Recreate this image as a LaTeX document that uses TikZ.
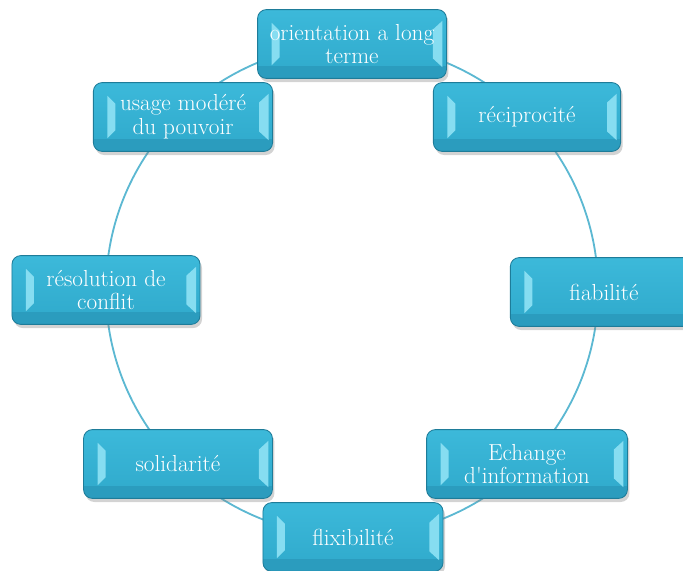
\documentclass[tikz,border=0pt]{standalone}
\usepackage{textcomp}
\usetikzlibrary{calc,shadows}
\definecolor{boxbase}{HTML}{2FA9CB}
\definecolor{boxtop}{HTML}{3CB9DA}
\definecolor{boxdeep}{HTML}{2B9CBE}
\definecolor{boxdark}{HTML}{1E7C99}
\definecolor{boxlight}{HTML}{86DDF1}
\definecolor{ringline}{HTML}{5CB8D2}
\tikzset{
  cycbox/.style={rounded corners=2.2mm, minimum height=1.72cm, inner sep=1pt,
    text=white, align=center, font=\fontsize{16.5}{17}\selectfont,
    draw=boxdark, line width=0.6pt,
    drop shadow={shadow xshift=0.5mm, shadow yshift=-0.9mm, opacity=0.35},
    path picture={
      \coordinate (bl) at (path picture bounding box.south west);
      \coordinate (tr) at (path picture bounding box.north east);
      \coordinate (tl) at (bl |- tr);
      \coordinate (br) at (bl -| tr);
      \shade[sharp corners, top color=boxtop, bottom color=boxbase] (bl) rectangle (tr);
      \fill[sharp corners, boxdeep] (bl) rectangle ($(br)+(0mm,3mm)$);
      \fill[sharp corners, boxlight] ($(bl)+(3.5mm,3.3mm)$) -- ($(tl)+(3.5mm,-3.3mm)$)
        -- ($(tl)+(5.5mm,-5.3mm)$) -- ($(bl)+(5.5mm,5.3mm)$) -- cycle;
      \fill[sharp corners, boxlight] ($(br)+(-1.0mm,2.8mm)$) -- ($(tr)+(-1.0mm,-2.8mm)$)
        -- ($(tr)+(-3.4mm,-5.0mm)$) -- ($(br)+(-3.4mm,5.0mm)$) -- cycle;
    }},
  ring/.style={draw=ringline, line width=1.3pt}
}
\begin{document}
\begin{tikzpicture}[x=0.025cm, y=-0.025cm]
\useasboundingbox (0, 0) rectangle (683, 571);
\coordinate (centro) at (352, 290);
\draw[ring] (centro) circle[radius=6.15cm];
\node[cycbox, minimum width=4.72cm] (uno) at (352, 44) {orientation a long\\terme};
\node[cycbox, minimum width=4.68cm] (dos) at (527, 117) {réciprocité};
\node[cycbox, minimum width=4.68cm] (tres) at (604, 292) {fiabilité};
\node[cycbox, minimum width=5.02cm] (cuatro) at (527, 464) {Echange\\d\textquotesingle information};
\node[cycbox, minimum width=4.5cm] (cinco) at (353, 537) {flixibilité};
\node[cycbox, minimum width=4.72cm] (seis) at (178, 464) {solidarité};
\node[cycbox, minimum width=4.7cm] (siete) at (106, 290) {résolution de\\conflit};
\node[cycbox, minimum width=4.48cm] (ocho) at (183, 117) {usage modéré\\du pouvoir};
\end{tikzpicture}
\end{document}
